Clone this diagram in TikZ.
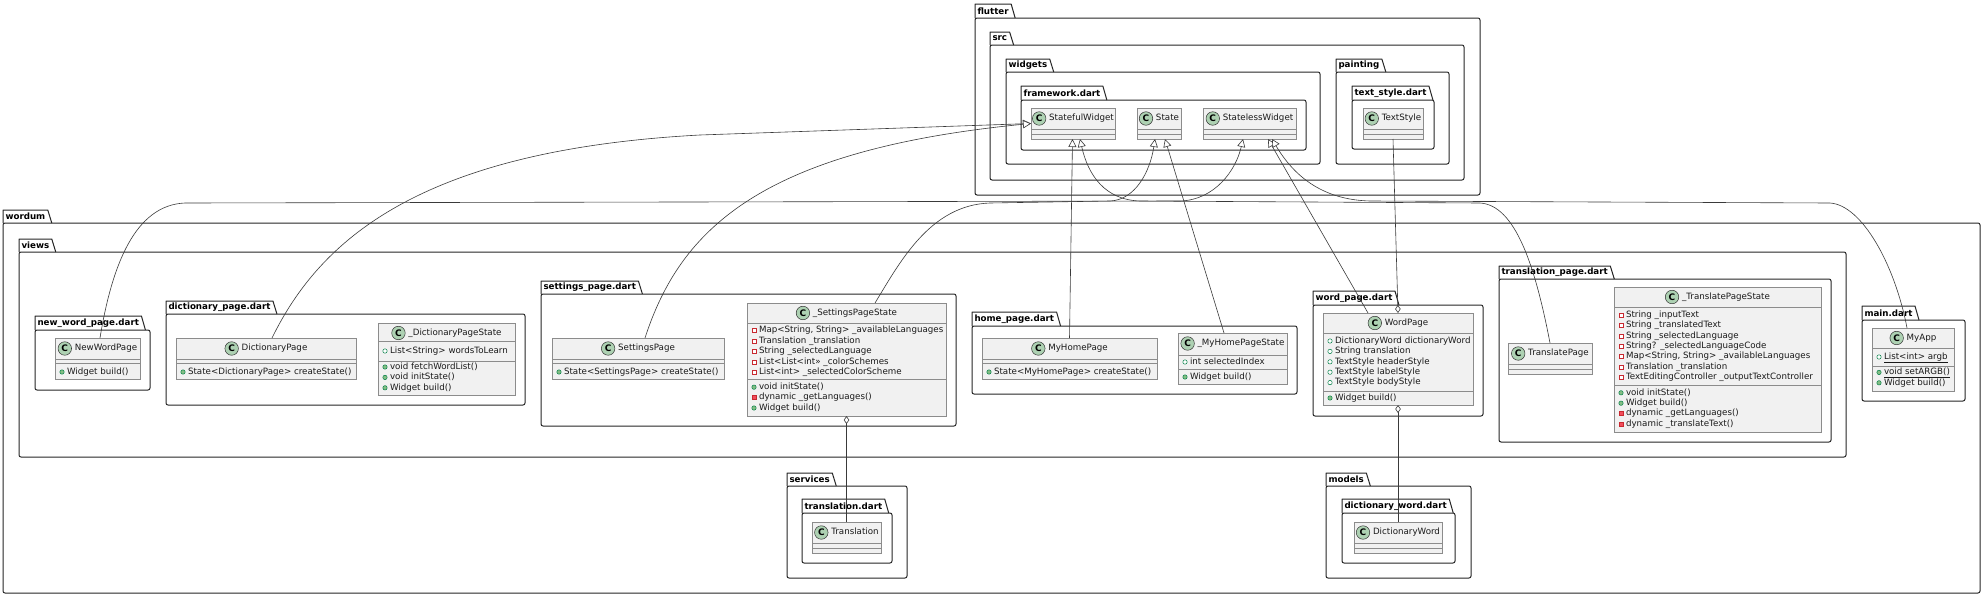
\documentclass[tikz,border=0pt]{standalone}
\usepackage{fontspec}
\setmainfont{DejaVu Sans}
\usetikzlibrary{arrows.meta}
\definecolor{clsfill}{HTML}{F1F1F1}
\definecolor{clsborder}{HTML}{8C8C8C}
\definecolor{iconfill}{HTML}{ADD1B2}
\definecolor{pubg}{HTML}{038048}
\definecolor{pubfill}{HTML}{84BE84}
\definecolor{privr}{HTML}{C82930}
\definecolor{privfill}{HTML}{F24D5C}
\definecolor{txt}{HTML}{1A1A1A}
\definecolor{edge}{HTML}{3A3A3A}
\newcommand{\cf}{\fontsize{8.7}{10}\selectfont}
\tikzset{
  every node/.style={inner sep=0pt, outer sep=0pt},
  classbox/.style={draw=clsborder, fill=clsfill, line width=0.6pt, anchor=north west, rectangle},
  pkgbox/.style={draw=black!85, line width=1pt, rounded corners=2pt, anchor=north west, fill=white, rectangle},
  pkgtab/.style={font=\bfseries\cf, anchor=south west, inner xsep=2.5pt, text=black},
  pkgline/.style={draw=black!85, line width=1pt, line join=round},
  sepline/.style={draw=clsborder, line width=0.6pt},
  ctitle/.style={font=\cf, text=txt, anchor=center, text height=6.4pt, text depth=1.8pt},
  cicon/.style={circle, draw=black!80, fill=iconfill, line width=0.5pt, minimum size=13.5pt, font=\bfseries\fontsize{9}{9}\selectfont},
  rowtext/.style={font=\cf, text=txt, anchor=west, text height=6.4pt, text depth=1.8pt},
  vispf/.style={circle, draw=pubg, fill=white, line width=0.5pt, minimum size=4.4pt},
  vispm/.style={circle, draw=pubg, fill=pubfill, line width=0.5pt, minimum size=4.4pt},
  visvf/.style={rectangle, draw=privr, fill=white, line width=0.5pt, minimum size=4pt},
  visvm/.style={rectangle, draw=privr, fill=privfill, line width=0.5pt, minimum size=4pt},
  inh/.style={draw=edge, line width=0.6pt, -{Triangle[length=8pt, width=8pt, fill=white]}},
  agg/.style={draw=edge, line width=0.6pt, {Diamond[length=8pt, width=5.5pt, fill=white]}-},
}
\newcounter{rr}
% name, label, x1, tabtop, boxtop, x2, y2
\newcommand{\pkg}[7]{%
  \node[pkgbox, minimum width={(#6-#3)*1pt}, minimum height={(#7-#5)*1pt}] (#1) at (#3,#5) {};
  \node[pkgtab, minimum height={(#5-#4)*1pt}] (#1-tab) at (#3,#5) {#2};
  \draw[pkgline] (#1-tab.south west) -- (#1-tab.north west) -- (#1-tab.north east) -- ([xshift=4pt]#1-tab.south east);
}
% name, x1, y1, x2, y2, title, title y
\newcommand{\cls}[7]{%
  \node[classbox, minimum width={(#4-#2)*1pt}, minimum height={(#5-#3)*1pt}] (#1) at (#2,#3) {};
  \node[ctitle] (#1-t) at ({(#2+#4)/2+8.5},#7) {#6};
  \node[cicon] (#1-i) at ([xshift=-10pt]#1-t.west) {C};
}
\newcommand{\csep}[3]{\draw[sepline] (#1,#3) -- (#2,#3);}
% x1, y, type, text
\newcommand{\crow}[4]{\stepcounter{rr}%
  \node[vis#3] (ri\arabic{rr}) at (#1+7,#2) {};%
  \node[rowtext] (rt\arabic{rr}) at (#1+12,#2) {#4};}
\begin{document}
\begin{tikzpicture}[x=1pt,y=-1pt]
\useasboundingbox (0,0) rectangle (1984,597);
% ---------- packages ----------
\pkg{flutter}{flutter}{975}{4}{18}{1480}{195}
\pkg{src}{src}{990}{32}{45}{1464}{180}
\pkg{widgets}{widgets}{1006}{59}{72}{1320}{164}
\pkg{framework}{framework.dart}{1021}{86}{100}{1306}{150}
\pkg{painting}{painting}{1336}{59}{72}{1449}{164}
\pkg{textstyle}{text\_style.dart}{1352}{86}{100}{1434}{149}
\pkg{wordum}{wordum}{3}{210}{223}{1980}{593}
\pkg{views}{views}{19}{239}{252}{1846}{457}
\pkg{newword}{new\_word\_page.dart}{35}{316}{330}{150}{390}
\pkg{dictpage}{dictionary\_page.dart}{166}{301}{314}{525}{405}
\pkg{settings}{settings\_page.dart}{541}{281}{294}{956}{426}
\pkg{home}{home\_page.dart}{972}{312}{326}{1297}{394}
\pkg{wordpg}{word\_page.dart}{1313}{291}{305}{1483}{416}
\pkg{transpg}{translation\_page.dart}{1499}{266}{279}{1831}{442}
\pkg{maindart}{main.dart}{1862}{306}{320}{1965}{401}
\pkg{services}{services}{787}{473}{486}{907}{578}
\pkg{transdart}{translation.dart}{802}{499}{513}{892}{563}
\pkg{models}{models}{1326}{473}{486}{1471}{578}
\pkg{dwdart}{dictionary\_word.dart}{1342}{499}{513}{1455}{563}
% ---------- flutter classes ----------
\cls{sfw}{1031}{108}{1115}{139}{StatefulWidget}{118.5}
\csep{1031}{1115}{129}\csep{1031}{1115}{134}
\cls{state}{1137}{108}{1181}{139}{State}{118.5}
\csep{1137}{1181}{129}\csep{1137}{1181}{134}
\cls{slw}{1203}{108}{1296}{139}{StatelessWidget}{118.5}
\csep{1203}{1296}{129}\csep{1203}{1296}{134}
\cls{ts}{1363}{108}{1423}{139}{TextStyle}{118.5}
\csep{1363}{1423}{129}\csep{1363}{1423}{134}
% ---------- views ----------
\cls{nwp}{55}{338}{140}{379}{NewWordPage}{348.5}
\csep{55}{140}{359}\csep{55}{140}{363.5}
\crow{55}{372}{pm}{Widget build()}
\cls{dp}{176}{338}{356}{379}{DictionaryPage}{348.5}
\csep{176}{356}{359}\csep{176}{356}{363.5}
\crow{176}{372}{pm}{State<DictionaryPage> createState()}
\cls{dps}{378}{323}{515}{395}{\_DictionaryPageState}{333}
\csep{378}{515}{341}\csep{378}{515}{361}
\crow{378}{351}{pf}{List<String> wordsToLearn}
\crow{378}{367}{pm}{void fetchWordList()}
\crow{378}{377.4}{pm}{void initState()}
\crow{378}{387.8}{pm}{Widget build()}
\cls{sp}{552}{338}{724}{379}{SettingsPage}{348.5}
\csep{552}{724}{359}\csep{552}{724}{363.5}
\crow{552}{372}{pm}{State<SettingsPage> createState()}
\cls{sps}{747}{303}{946}{416}{\_SettingsPageState}{313}
\csep{747}{946}{323}\csep{747}{946}{379}
\crow{747}{330.5}{vf}{Map<String, String> \_availableLanguages}
\crow{747}{341}{vf}{Translation \_translation}
\crow{747}{351.4}{vf}{String \_selectedLanguage}
\crow{747}{361.8}{vf}{List<List<int>> \_colorSchemes}
\crow{747}{372.2}{vf}{List<int> \_selectedColorScheme}
\crow{747}{387.2}{pm}{void initState()}
\crow{747}{397.6}{vm}{dynamic \_getLanguages()}
\crow{747}{408}{pm}{Widget build()}
\cls{myhome}{982}{338}{1157}{379}{MyHomePage}{348.5}
\csep{982}{1157}{359}\csep{982}{1157}{363.5}
\crow{982}{372}{pm}{State<MyHomePage> createState()}
\cls{mhs}{1178}{333}{1287}{384}{\_MyHomePageState}{343.5}
\csep{1178}{1287}{355}\csep{1178}{1287}{369}
\crow{1178}{362}{pf}{int selectedIndex}
\crow{1178}{377}{pm}{Widget build()}
\cls{wordpage}{1323}{313}{1473}{405}{WordPage}{323}
\csep{1323}{1473}{333}\csep{1323}{1473}{391}
\crow{1323}{341}{pf}{DictionaryWord dictionaryWord}
\crow{1323}{351.4}{pf}{String translation}
\crow{1323}{361.8}{pf}{TextStyle headerStyle}
\crow{1323}{372.2}{pf}{TextStyle labelStyle}
\crow{1323}{382.6}{pf}{TextStyle bodyStyle}
\crow{1323}{398}{pm}{Widget build()}
\cls{tp}{1508}{343}{1592}{374}{TranslatePage}{353.5}
\csep{1508}{1592}{364}\csep{1508}{1592}{369}
\cls{tps}{1614}{287}{1821}{432}{\_TranslatePageState}{297}
\csep{1614}{1821}{307}\csep{1614}{1821}{385}
\crow{1614}{315}{vf}{String \_inputText}
\crow{1614}{325.4}{vf}{String \_translatedText}
\crow{1614}{335.8}{vf}{String \_selectedLanguage}
\crow{1614}{346.2}{vf}{String? \_selectedLanguageCode}
\crow{1614}{356.6}{vf}{Map<String, String> \_availableLanguages}
\crow{1614}{367}{vf}{Translation \_translation}
\crow{1614}{377.4}{vf}{TextEditingController \_outputTextController}
\crow{1614}{392.8}{pm}{void initState()}
\crow{1614}{403.2}{pm}{Widget build()}
\crow{1614}{413.6}{vm}{dynamic \_getLanguages()}
\crow{1614}{424}{vm}{dynamic \_translateText()}
\cls{myapp}{1872}{328}{1954}{391}{MyApp}{338}
\csep{1872}{1954}{348}\csep{1872}{1954}{366}
\crow{1872}{357}{pf}{\underline{List<int> argb}}
\crow{1872}{372.4}{pm}{\underline{void setARGB()}}
\crow{1872}{382.8}{pm}{Widget build()}
% ---------- services / models ----------
\cls{tr}{812}{522}{881}{553}{Translation}{532.5}
\csep{812}{881}{543}\csep{812}{881}{548}
\cls{dw}{1354}{522}{1442}{553}{DictionaryWord}{532.5}
\csep{1354}{1442}{543}\csep{1354}{1442}{548}
% ---------- connectors ----------
\draw[inh] (myhome.north) -- ([xshift=-0.5pt]sfw.south);
\draw[inh] ([xshift=-8.5pt]mhs.north) -- ([xshift=6pt]state.south);
\draw[inh] ([xshift=-30pt]wordpage.north) -- ([xshift=18.5pt]slw.south);
\draw[inh] ([xshift=-6pt]myapp.north) .. controls (1895,265) and (1862,205) .. (1830,203) -- (1370,201) .. controls (1330,200) and (1298,183) .. ([xshift=22.5pt]slw.south);
\draw[inh] (tp.north) .. controls (1535,265) and (1515,205) .. (1480,203) -- (1140,201) .. controls (1105,200) and (1088,175) .. ([xshift=7pt]sfw.south);
\draw[inh] ([xshift=2.5pt]nwp.north) .. controls (112,265) and (135,205) .. (185,203) -- (1180,201) .. controls (1215,200) and (1236,170) .. ([xshift=-6.5pt]slw.south);
\draw[inh] ([xshift=6pt]dp.north) .. controls (320,240) and (420,150) .. (700,135) -- (sfw.west);
\draw[inh] ([xshift=7pt]sp.north) .. controls (680,230) and (760,150) .. (sfw.west);
\draw[inh] ([xshift=28.5pt]sps.north) .. controls (900,262) and (930,205) .. (990,203) -- (1110,201) .. controls (1135,200) and (1150,172) .. ([xshift=-4pt]state.south);
\draw[agg] (wordpage.north) -- (ts.south);
\draw[agg] (wordpage.south) -- (dw.north);
\draw[agg] (sps.south) -- (tr.north);
\end{tikzpicture}
\end{document}
